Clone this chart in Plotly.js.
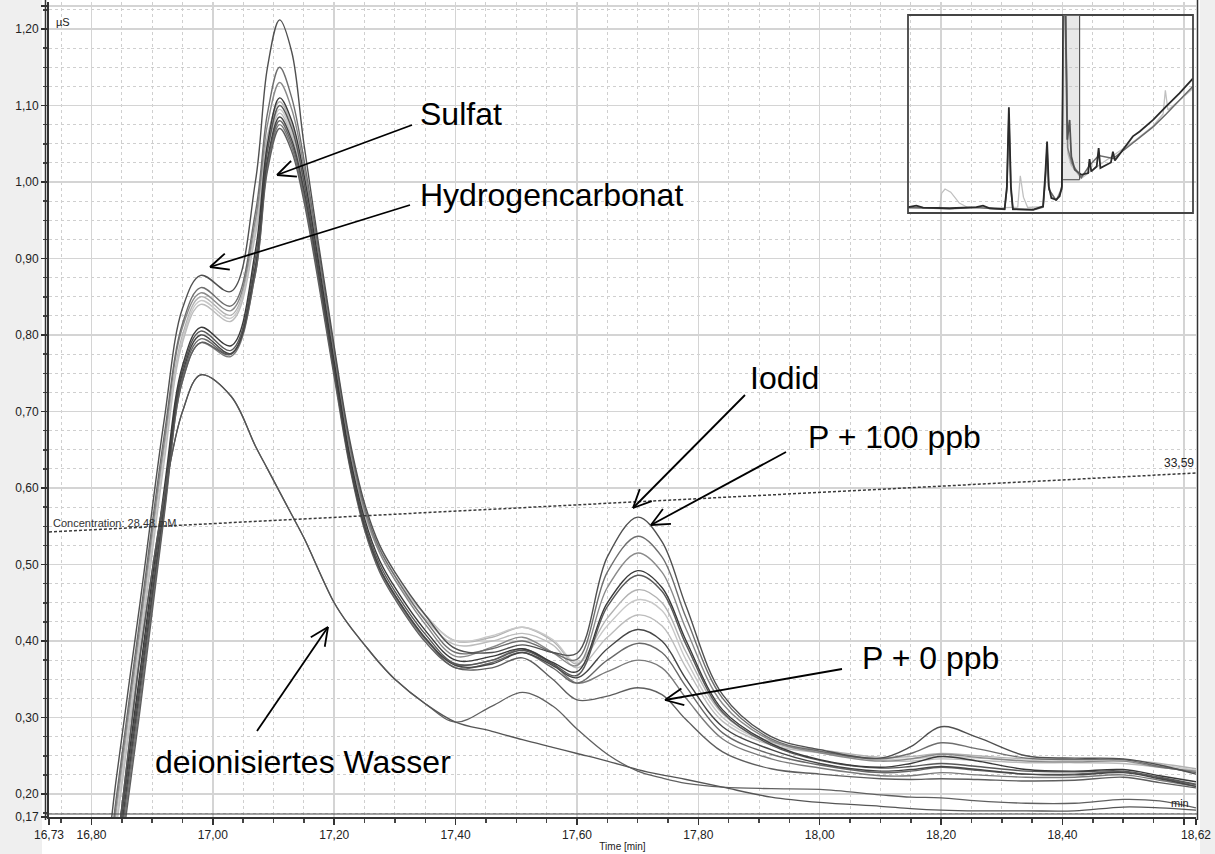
<!DOCTYPE html>
<html><head><meta charset="utf-8">
<script src="https://cdn.plot.ly/plotly-3.0.1.min.js"></script>
<style>html,body{margin:0;padding:0;background:#fff}#chart{width:1215px;height:854px}</style>
</head><body><div id="chart"></div>
<script>
// ---- main chromatogram data (time in min, conductivity in µS) ----
const time = [16.73,16.80,16.84,16.88,16.92,16.95,16.98,17.03,17.07,17.09,17.11,17.13,17.15,17.20,17.225,17.25,17.275,17.30,17.35,17.40,17.46,17.51,17.56,17.60,17.65,17.70,17.74,17.78,17.84,17.92,18.00,18.10,18.15,18.20,18.26,18.34,18.42,18.50,18.56,18.62];

const s01 = [-0.30,-0.05,0.215,0.45,0.69,0.835,0.878,0.857,1.00,1.15,1.212,1.17,1.05,0.785,0.665,0.58,0.525,0.49,0.434,0.39,0.385,0.395,0.385,0.384,0.51,0.562,0.53,0.445,0.33,0.275,0.258,0.247,0.262,0.288,0.274,0.250,0.247,0.246,0.238,0.226];
const s02 = [-0.30,-0.08,0.19,0.43,0.67,0.815,0.862,0.838,0.96,1.09,1.15,1.11,1.03,0.78,0.66,0.575,0.52,0.485,0.427,0.385,0.39,0.40,0.385,0.376,0.49,0.537,0.51,0.43,0.325,0.272,0.256,0.246,0.253,0.267,0.259,0.247,0.245,0.245,0.236,0.228];
const s03 = [-0.30,-0.09,0.18,0.42,0.66,0.81,0.855,0.832,0.95,1.075,1.13,1.095,1.02,0.775,0.655,0.57,0.515,0.48,0.422,0.38,0.392,0.405,0.385,0.368,0.47,0.515,0.49,0.415,0.318,0.27,0.254,0.243,0.246,0.252,0.248,0.243,0.242,0.243,0.235,0.230];
const s04 = [-0.30,-0.12,0.12,0.36,0.60,0.76,0.81,0.786,0.91,1.05,1.11,1.08,1.01,0.765,0.645,0.56,0.505,0.47,0.414,0.375,0.38,0.39,0.372,0.36,0.45,0.492,0.47,0.40,0.31,0.266,0.245,0.235,0.240,0.249,0.243,0.232,0.230,0.232,0.224,0.216];
const s05 = [-0.30,-0.13,0.11,0.35,0.59,0.755,0.805,0.78,0.90,1.04,1.10,1.07,1.0,0.76,0.64,0.555,0.50,0.465,0.409,0.37,0.375,0.388,0.37,0.355,0.445,0.486,0.465,0.395,0.307,0.264,0.244,0.234,0.236,0.240,0.236,0.230,0.229,0.230,0.222,0.213];
const s06 = [-0.30,-0.10,0.17,0.41,0.65,0.80,0.85,0.826,0.94,1.06,1.105,1.075,1.005,0.77,0.655,0.57,0.52,0.485,0.434,0.40,0.405,0.418,0.40,0.37,0.43,0.467,0.45,0.385,0.305,0.268,0.258,0.248,0.249,0.253,0.250,0.246,0.245,0.245,0.240,0.233];
const s07 = [-0.30,-0.10,0.16,0.40,0.645,0.795,0.845,0.822,0.935,1.05,1.095,1.065,1.0,0.77,0.655,0.57,0.52,0.485,0.434,0.40,0.407,0.418,0.402,0.372,0.42,0.454,0.44,0.375,0.30,0.266,0.256,0.246,0.246,0.249,0.247,0.244,0.243,0.243,0.238,0.231];
const s08 = [-0.30,-0.11,0.15,0.39,0.635,0.79,0.84,0.818,0.93,1.045,1.09,1.06,0.995,0.765,0.65,0.565,0.515,0.48,0.429,0.395,0.40,0.41,0.395,0.365,0.405,0.434,0.42,0.365,0.295,0.264,0.254,0.244,0.243,0.246,0.244,0.241,0.241,0.240,0.235,0.229];
const s09 = [-0.30,-0.14,0.10,0.34,0.58,0.75,0.80,0.776,0.89,1.03,1.085,1.055,0.99,0.755,0.635,0.55,0.495,0.46,0.404,0.368,0.37,0.385,0.368,0.352,0.39,0.415,0.40,0.35,0.288,0.258,0.240,0.230,0.232,0.236,0.232,0.226,0.225,0.228,0.220,0.210];
const s10 = [-0.30,-0.15,0.09,0.33,0.575,0.745,0.795,0.775,0.885,1.025,1.08,1.05,0.985,0.75,0.635,0.55,0.495,0.46,0.404,0.365,0.372,0.385,0.365,0.345,0.375,0.397,0.385,0.34,0.28,0.252,0.238,0.228,0.230,0.235,0.231,0.226,0.226,0.229,0.221,0.212];
const s11 = [-0.30,-0.16,0.08,0.32,0.57,0.74,0.79,0.772,0.88,1.02,1.075,1.045,0.98,0.75,0.633,0.548,0.493,0.458,0.402,0.37,0.375,0.39,0.37,0.345,0.36,0.375,0.365,0.325,0.272,0.246,0.234,0.224,0.224,0.228,0.225,0.222,0.222,0.225,0.218,0.210];
const s12 = [-0.30,-0.17,0.07,0.31,0.565,0.74,0.79,0.775,0.88,1.015,1.07,1.04,0.975,0.745,0.63,0.545,0.49,0.455,0.399,0.365,0.365,0.378,0.35,0.323,0.328,0.339,0.33,0.297,0.255,0.233,0.226,0.220,0.219,0.220,0.219,0.217,0.218,0.222,0.215,0.208];
const water1 = [-0.30,-0.10,0.12,0.38,0.59,0.70,0.748,0.72,0.655,0.625,0.595,0.565,0.535,0.45,0.42,0.395,0.371,0.35,0.318,0.294,0.282,0.271,0.261,0.253,0.243,0.232,0.225,0.219,0.209,0.196,0.189,0.184,0.181,0.179,0.178,0.178,0.178,0.183,0.182,0.179];
const water2 = [-0.30,-0.10,0.12,0.38,0.59,0.70,0.748,0.72,0.655,0.625,0.595,0.565,0.535,0.45,0.42,0.395,0.371,0.35,0.318,0.294,0.315,0.333,0.315,0.285,0.252,0.230,0.221,0.214,0.209,0.207,0.206,0.199,0.196,0.195,0.191,0.188,0.188,0.193,0.191,0.182];

// concentration gradient line
const concTime = [16.73, 18.62];
const concValue = [0.5425, 0.6196];

// ---- inset overview (relative units 0..100) ----
const insetAX = [0,2.9,5.3,14.6,24,26.3,28.7,33.9,34.7,35.4,36.1,36.8,43.9,47.4,48.2,48.8,49.4,50.3,52,53.2,54.0,54.5,55.2,55.9,56.7,57.3,58.5,60.8,63.2,63.7,64.3,66.2,66.9,67.5,71.2,71.9,72.6,78.9,81.3,86,90.6,95.3,100];
const insetAY = [3.0,3.7,2.7,2.4,3.0,3.7,2.4,2.0,13.4,53.4,13.4,2.0,1.7,3.4,20,36.1,13.4,7.6,6.7,8.4,13.4,105,105,37,47,28.6,21.8,19.3,20.2,27.2,21,23.5,32.8,22.7,25.5,31,26.5,38.7,41.2,47,53.8,60.5,68];
const insetBX = [0,5,14.6,24,28.7,33.9,34.7,35.4,36.1,36.8,43.9,47.4,48.2,48.8,49.4,52,54.0,54.6,55.3,56.0,57.5,60.8,63.7,66.9,72,78.9,86,90.6,95.3,100];
const insetBY = [2.8,2.5,2.2,2.8,2.3,1.8,12,50,12,1.8,1.5,3.0,18,33,12,6.2,12,105,105,33,25,17.8,24,29,27.5,35.5,43.5,50,57,64];
const insetCX = [0,10,11.2,11.8,13,15,18,21,30,38.5,39.4,40.5,42,47.4,48.2,48.8,49.4,52,54.0,54.7,55.4,56.1,57.3,60.8,66.9,72,80,86,89.5,90.3,91.2,95.3,100];
const insetCY = [2.5,2.5,3,10,12.1,10.5,5,2.8,2.5,3,18.8,8,2.8,3.2,15,30,12,6.5,13,105,105,30,24,17.5,24,29,37,44,50,62,52,57,63];

const xTickVals = [16.73,16.80,17.00,17.20,17.40,17.60,17.80,18.00,18.20,18.40,18.60,18.62];
const xTickText = ['16,73','16,80','17,00','17,20','17,40','17,60','17,80','18,00','18,20','18,40','','18,62'];
const yTickVals = [0.17,0.20,0.30,0.40,0.50,0.60,0.70,0.80,0.90,1.00,1.10,1.20,1.23];
const yTickText = ['0,17','0,20','0,30','0,40','0,50','0,60','0,70','0,80','0,90','1,00','1,10','1,20','1,23'];

// ---- styling ----
const sampleSeries = [s01,s02,s03,s04,s05,s06,s07,s08,s09,s10,s11,s12];
const sampleColors = ['#505050','#6e6e6e','#8a8a8a','#3a3a3a','#585858','#b2b2b2','#c8c8c8','#bcbcbc','#464646','#686868','#7a7a7a','#5e5e5e'];

const FONT = 'Liberation Sans, Arial, sans-serif';
const L=49, R=1196, T=2, B=817;
const px = x => (x-L)/(R-L);
const py = y => (B-y)/(B-T);

const traces = [];
const order = [5,6,7,2,1,10,9,11,4,8,3,0];
order.forEach(i => traces.push({
  x: time, y: sampleSeries[i], type:'scatter', mode:'lines',
  line:{color: sampleColors[i], width:1.4, shape:'spline', smoothing:1.0},
  hoverinfo:'skip'
}));
traces.push({x: time, y: water2, type:'scatter', mode:'lines', line:{color:'#606060', width:1.3, shape:'spline', smoothing:1.0}, hoverinfo:'skip'});
traces.push({x: time, y: water1, type:'scatter', mode:'lines', line:{color:'#555555', width:1.3, shape:'spline', smoothing:1.0}, hoverinfo:'skip'});
traces.push({x: concTime, y: concValue, type:'scatter', mode:'lines', line:{color:'#3a3a3a', width:1.5, dash:'3px,2px'}, hoverinfo:'skip'});

traces.push({x: insetCX, y: insetCY, xaxis:'x2', yaxis:'y2', type:'scatter', mode:'lines', line:{color:'#c0c0c0', width:1.3}, hoverinfo:'skip'});
traces.push({x: insetBX, y: insetBY, xaxis:'x2', yaxis:'y2', type:'scatter', mode:'lines', line:{color:'#6a6a6a', width:1.5}, hoverinfo:'skip'});
traces.push({x: insetAX, y: insetAY, xaxis:'x2', yaxis:'y2', type:'scatter', mode:'lines', line:{color:'#2a2a2a', width:1.8}, hoverinfo:'skip'});

const arrows = [
  [[412,125],[277,175]],
  [[410,205],[210,267]],
  [[745,395],[633,508]],
  [[786,452],[651,525]],
  [[842,669],[665,700]],
  [[257,731],[328,627]]
];
const shapes = [];
shapes.push({type:'rect', xref:'paper', yref:'paper', x0:px(0), x1:px(42), y0:py(854), y1:py(0), fillcolor:'#efefef', line:{width:0}, layer:'below'});
shapes.push({type:'rect', xref:'paper', yref:'paper', x0:px(1200), x1:px(1215), y0:py(854), y1:py(0), fillcolor:'#efefef', line:{width:0}, layer:'below'});
shapes.push({type:'line', xref:'paper', yref:'paper', x0:px(45.5), x1:px(45.5), y0:py(820), y1:py(0), line:{color:'#333', width:1.5}});
shapes.push({type:'line', xref:'paper', yref:'paper', x0:px(46), x1:px(1198), y0:py(814), y1:py(814), line:{color:'#444', width:1.2}});
shapes.push({type:'line', xref:'paper', yref:'paper', x0:px(1197.5), x1:px(1197.5), y0:py(820), y1:py(0), line:{color:'#333', width:1.5}});
shapes.push({type:'rect', xref:'paper', yref:'paper', x0:px(908), x1:px(1193), y0:py(213), y1:py(15), line:{color:'#444', width:1.8}, fillcolor:'rgba(0,0,0,0)'});
shapes.push({type:'rect', xref:'x2', yref:'y2', x0:54.4, x1:60.2, y0:16.8, y1:100, fillcolor:'rgba(180,180,180,0.3)', line:{width:0}});
shapes.push({type:'line', xref:'x2', yref:'y2', x0:60.2, x1:60.2, y0:16.8, y1:100, line:{color:'#555', width:1.2}});
shapes.push({type:'line', xref:'x2', yref:'y2', x0:54.4, x1:60.2, y0:16.8, y1:16.8, line:{color:'#555', width:1.2}});

arrows.forEach(([tail, tip]) => {
  shapes.push({type:'line', xref:'paper', yref:'paper', x0:px(tail[0]), y0:py(tail[1]), x1:px(tip[0]), y1:py(tip[1]), line:{color:'#000', width:1.8}});
  const dx = tail[0]-tip[0], dy = tail[1]-tip[1];
  const len = Math.hypot(dx,dy), ux = dx/len, uy = dy/len;
  [25,-25].forEach(a => {
    const r = a*Math.PI/180;
    const bx = ux*Math.cos(r) - uy*Math.sin(r), by = ux*Math.sin(r) + uy*Math.cos(r);
    shapes.push({type:'line', xref:'paper', yref:'paper', x0:px(tip[0]), y0:py(tip[1]), x1:px(tip[0]+bx*20), y1:py(tip[1]+by*20), line:{color:'#000', width:1.8}});
  });
});

const big = {family: FONT, size: 32, color:'#000'};
const annotations = [
  {text:'Sulfat', x:px(418), y:py(114)},
  {text:'Hydrogencarbonat', x:px(418), y:py(195)},
  {text:'Iodid', x:px(748), y:py(378)},
  {text:'P + 100 ppb', x:px(806), y:py(437)},
  {text:'P + 0 ppb', x:px(860), y:py(658)},
  {text:'deionisiertes Wasser', x:px(153), y:py(762)}
].map(a => Object.assign({xref:'paper', yref:'paper', xanchor:'left', yanchor:'middle', showarrow:false, font:big}, a));
annotations.push({text:'µS', xref:'paper', yref:'paper', x:px(54), y:py(22), xanchor:'left', yanchor:'middle', showarrow:false, font:{family:FONT, size:11, color:'#222'}});
annotations.push({text:'min', xref:'paper', yref:'paper', x:px(1191), y:py(803), xanchor:'right', yanchor:'middle', showarrow:false, font:{family:FONT, size:11, color:'#222'}});
annotations.push({text:'Concentration: 28,48 mM', xref:'paper', yref:'paper', x:px(51), y:py(523), xanchor:'left', yanchor:'middle', showarrow:false, font:{family:FONT, size:11, color:'#333'}});
annotations.push({text:'33,59', xref:'paper', yref:'paper', x:px(1196), y:py(463), xanchor:'right', yanchor:'middle', showarrow:false, font:{family:FONT, size:12, color:'#222'}});

const layout = {
  width:1215, height:854,
  margin:{l:L, r:1215-R, t:T, b:854-B, pad:0},
  paper_bgcolor:'#ffffff', plot_bgcolor:'rgba(0,0,0,0)',
  showlegend:false, hovermode:false,
  font:{family:FONT, size:12, color:'#222'},
  xaxis:{
    range:[16.73,18.62], tickmode:'array', tickvals:xTickVals, ticktext:xTickText,
    showgrid:true, gridcolor:'#d4d4d4', gridwidth:1.5, zeroline:false,
    showline:true, linecolor:'#333', linewidth:2, mirror:false,
    ticks:'outside', ticklen:6, tickcolor:'#333', tickwidth:1.5,
    tickfont:{family:FONT, size:12, color:'#222'},
    minor:{tickmode:'linear', tick0:16.75, dtick:0.05, ticks:'outside', ticklen:4, tickcolor:'#444', showgrid:true, gridcolor:'#cfcfcf', griddash:'dot', gridwidth:1},
    title:{text:'Time [min]', font:{family:FONT, size:10, color:'#222'}, standoff:2}
  },
  yaxis:{
    range:[0.17,1.2353], tickmode:'array', tickvals:yTickVals, ticktext:yTickText,
    showgrid:true, gridcolor:'#d4d4d4', gridwidth:1.5, zeroline:false,
    showline:true, linecolor:'#333', linewidth:2,
    ticks:'outside', ticklen:6, tickcolor:'#333', tickwidth:1.5,
    tickfont:{family:FONT, size:12, color:'#222'},
    minor:{tickmode:'linear', tick0:0.175, dtick:0.025, ticks:'outside', ticklen:4, tickcolor:'#444', showgrid:true, gridcolor:'#cfcfcf', griddash:'dot', gridwidth:1}
  },
  xaxis2:{domain:[px(908), px(1193)], range:[0,100], anchor:'y2', showgrid:false, zeroline:false, showticklabels:false, ticks:'', showline:false},
  yaxis2:{domain:[py(213), py(15)], range:[0,100], anchor:'x2', showgrid:false, zeroline:false, showticklabels:false, ticks:'', showline:false},
  shapes: shapes,
  annotations: annotations
};

Plotly.newPlot('chart', traces, layout, {displayModeBar:false, staticPlot:true});
</script>
</body></html>
